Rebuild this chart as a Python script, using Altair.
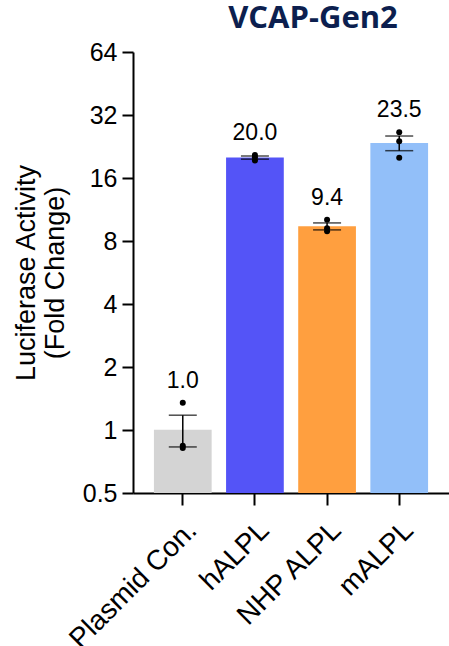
import altair as alt
import pandas as pd
import numpy as np

# ---- data ----
groups = ["Plasmid Con.", "hALPL", "NHP ALPL", "mALPL"]
plasmid_pts = [1.35, 0.82, 0.84]
hALPL_pts = [19.4, 20.1, 20.6]
nhp_pts = [10.1, 9.2, 8.9]
mALPL_pts = [26.5, 24.0, 20.0]
bar_colors = ["#d4d4d4", "#5454f7", "#ff9f3f", "#92bff9"]
y_ticks = [0.5, 1, 2, 4, 8, 16, 32, 64]
y_min, y_max = 0.5, 64

all_pts = [plasmid_pts, hALPL_pts, nhp_pts, mALPL_pts]

pts_rows = []
sum_rows = []
for g, vals in zip(groups, all_pts):
    arr = np.array(vals)
    m = arr.mean()
    sem = arr.std(ddof=1) / np.sqrt(len(arr))
    for v in vals:
        pts_rows.append({"group": g, "value": v})
    sum_rows.append({"group": g, "mean": m, "lo": m - sem, "hi": m + sem,
                     "top": max(arr.max(), m + sem), "label": f"{m:.1f}"})
pts = pd.DataFrame(pts_rows)
summ = pd.DataFrame(sum_rows)

FONT = "Liberation Sans"

x_enc = alt.X("group:N", sort=groups,
              scale=alt.Scale(paddingInner=0.2, paddingOuter=0.29),
              axis=alt.Axis(title=None, labelAngle=-45, labelFontSize=28, labelFont=FONT,
                            labelColor="black", tickSize=12, tickWidth=2, tickColor="black",
                            domainWidth=2, domainColor="black", labelPadding=11,
                            labelLimit=400))
y_scale = alt.Scale(type="log", base=2, domain=[y_min, y_max])
y_axis = alt.Axis(values=y_ticks, format="~g", grid=False,
                  title=["Luciferase Activity", "(Fold Change)"],
                  titleFontSize=27, titleFont=FONT, titleFontWeight="normal", titleColor="black",
                  titleLineHeight=29,
                  labelFontSize=25, labelFont=FONT, labelColor="black",
                  tickSize=11, tickWidth=2, tickColor="black",
                  domainWidth=2, domainColor="black", labelPadding=5, titlePadding=13)

bars = alt.Chart(summ).mark_bar().encode(
    x=x_enc,
    y=alt.Y("mean:Q", scale=y_scale, axis=y_axis),
    y2=alt.datum(y_min),
    color=alt.Color("group:N", sort=groups,
                    scale=alt.Scale(domain=groups, range=bar_colors), legend=None),
)

err = alt.Chart(summ).mark_rule(color="black", strokeWidth=1.5).encode(
    x=alt.X("group:N", sort=groups),
    y=alt.Y("lo:Q", scale=y_scale),
    y2="hi:Q",
)

caps = alt.Chart(summ).transform_fold(["lo", "hi"], as_=["k", "v"]).mark_tick(
    color="black", size=28, thickness=1.5).encode(
    x=alt.X("group:N", sort=groups),
    y=alt.Y("v:Q", scale=y_scale),
)

points = alt.Chart(pts).mark_circle(color="black", size=36, opacity=1).encode(
    x=alt.X("group:N", sort=groups),
    y=alt.Y("value:Q", scale=y_scale),
)

labels = alt.Chart(summ).mark_text(fontSize=23, font=FONT, color="black",
                                   baseline="alphabetic", dy=-15).encode(
    x=alt.X("group:N", sort=groups),
    y=alt.Y("top:Q", scale=y_scale),
    text="label:N",
)

chart = alt.layer(bars, err, caps, points, labels).properties(
    width=316, height=441,
    title=alt.TitleParams(text="VCAP-Gen2", font="Open Sans", fontSize=31, fontWeight="bold",
                          color="#0c1f4f", anchor="middle", dx=22, dy=30, offset=4,
                          baseline="bottom"),
    autosize=alt.AutoSizeParams(type="none"),
    padding={"left": 133, "top": 52, "right": 0, "bottom": 153},
).configure_view(stroke=None)

chart.save("out.html", embed_options={"renderer": "svg", "actions": False})
